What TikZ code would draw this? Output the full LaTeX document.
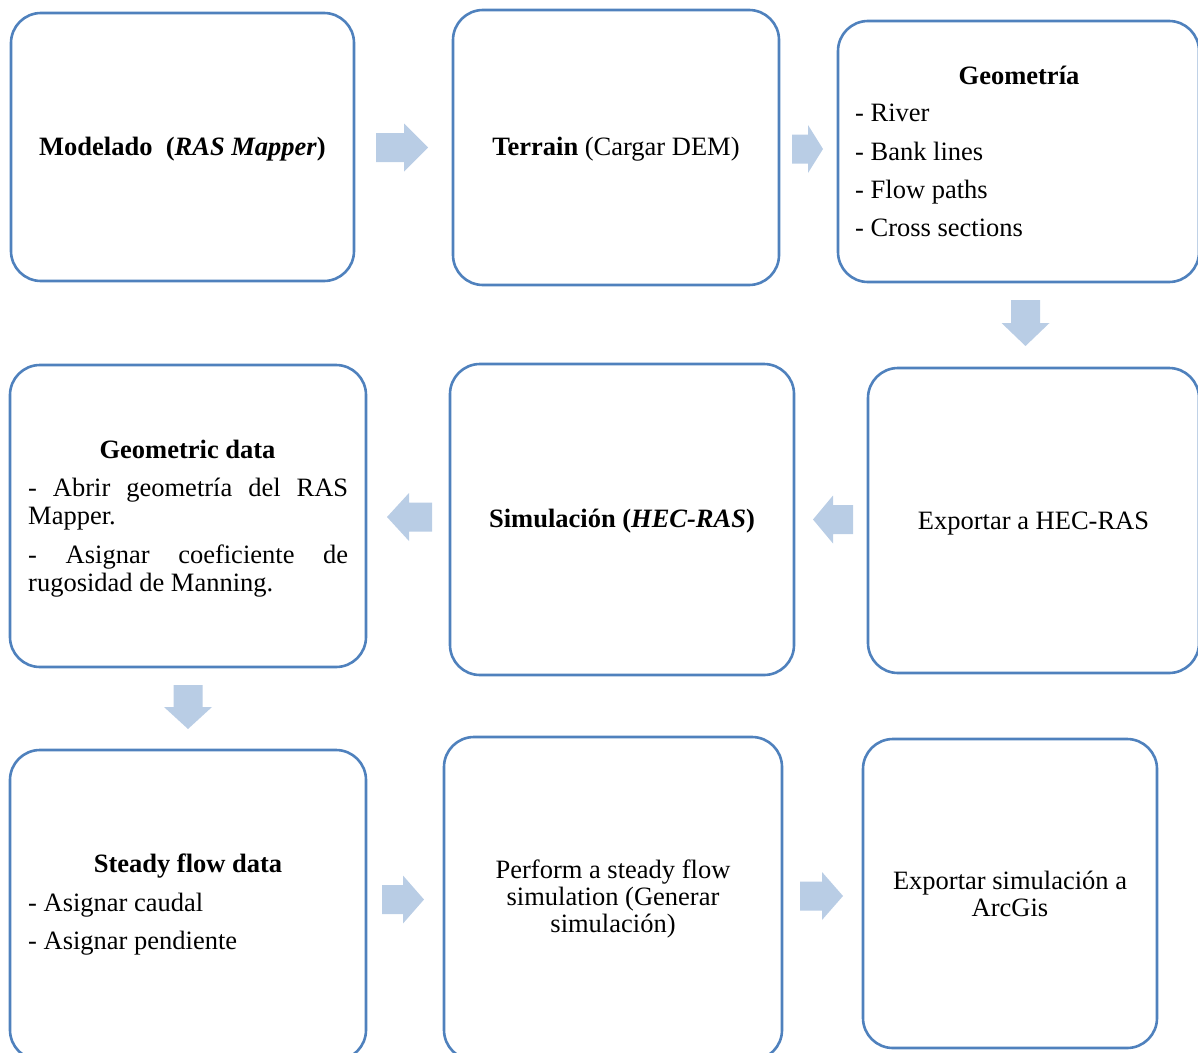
\documentclass[tikz,border=0pt]{standalone}
\usepackage{fontspec}
\setmainfont{Liberation Serif}
\definecolor{boxblue}{RGB}{79,129,189}
\definecolor{arrblue}{RGB}{185,205,229}
\newcommand\fsz{\fontsize{26.5}{28}\selectfont}
% block arrows: tail, tip, head length, centre
\newcommand\arrR[4]{\fill[afill] (#1,{#4-14.5}) -- ({#2-#3},{#4-14.5}) -- ({#2-#3},{#4-24}) -- (#2,#4) -- ({#2-#3},{#4+24}) -- ({#2-#3},{#4+14.5}) -- (#1,{#4+14.5}) -- cycle;}
\newcommand\arrL[4]{\fill[afill] (#1,{#4-14.5}) -- ({#2+#3},{#4-14.5}) -- ({#2+#3},{#4-24}) -- (#2,#4) -- ({#2+#3},{#4+24}) -- ({#2+#3},{#4+14.5}) -- (#1,{#4+14.5}) -- cycle;}
\newcommand\arrD[4]{\fill[afill] ({#4-14.5},#1) -- ({#4-14.5},{#2-#3}) -- ({#4-24},{#2-#3}) -- (#4,#2) -- ({#4+24},{#2-#3}) -- ({#4+14.5},{#2-#3}) -- ({#4+14.5},#1) -- cycle;}
\begin{document}
\begin{tikzpicture}[x=1pt,y=-1pt,
  box/.style={draw=boxblue, line width=2.6pt, rounded corners=30pt, fill=white, inner sep=0pt},
  txt/.style={inner sep=0pt, anchor=base, font=\fsz},
  ltxt/.style={txt, anchor=base west},
  afill/.style={fill=arrblue}]
\useasboundingbox (0,0) rectangle (1198,1052);

% boxes
\node[box, minimum width=343pt, minimum height=268pt] (A) at (182.5,147) {};
\node[box, minimum width=326pt, minimum height=275pt] (B) at (616,147.5) {};
\node[box, minimum width=361pt, minimum height=261pt] (C) at (1018.5,151.5) {};
\node[box, minimum width=331pt, minimum height=305pt] (F) at (1033.5,520.5) {};
\node[box, minimum width=344pt, minimum height=311pt] (E) at (622,519.5) {};
\node[box, minimum width=356pt, minimum height=302pt] (D) at (188,516) {};
\node[box, minimum width=356pt, minimum height=310pt] (G) at (188,905) {};
\node[box, minimum width=338pt, minimum height=323pt] (H) at (613,898.5) {};
\node[box, minimum width=294pt, minimum height=309pt] (I) at (1010,893.5) {};

% texts
\node[txt] (tA) at (182.5,155) {\textbf{Modelado\ \ (\textit{RAS Mapper})}};
\node[txt] (tB) at (616,155) {\textbf{Terrain} (Cargar DEM)};
\node[txt] (tC) at (1019,84) {\textbf{Geometría}};
\node[ltxt] (tC1) at (855,121) {- River};
\node[ltxt] (tC2) at (855,160) {- Bank lines};
\node[ltxt] (tC3) at (855,198) {- Flow paths};
\node[ltxt] (tC4) at (855,236.5) {- Cross sections};
\node[txt] (tF) at (1033.5,529) {Exportar a HEC-RAS};
\node[txt] (tE) at (622,527) {\textbf{Simulación (\textit{HEC-RAS})}};
\node[txt] (tD) at (187.5,458.5) {\textbf{Geometric data}};
\node[ltxt] (tD1) at (28,496) {\parbox[t]{320pt}{\fsz\hyphenpenalty=10000 - Abrir geometría del RAS\linebreak Mapper.}};
\node[ltxt] (tD2) at (28,563) {\parbox[t]{320pt}{\fsz\hyphenpenalty=10000 - Asignar coeficiente de\linebreak rugosidad de Manning.}};
\node[txt] (tG) at (188,872.5) {\textbf{Steady flow data}};
\node[ltxt] (tG1) at (28,911) {- Asignar caudal};
\node[ltxt] (tG2) at (28,949) {- Asignar pendiente};
\node[txt] (tH1) at (613,878) {Perform a steady flow};
\node[txt] (tH2) at (613,905) {simulation (Generar};
\node[txt] (tH3) at (613,932) {simulación)};
\node[txt] (tI1) at (1010,889) {Exportar simulación a};
\node[txt] (tI2) at (1010,916) {ArcGis};

% block arrows
\arrR{376}{428}{24}{147.5}
\arrR{792}{823}{15}{149}
\arrD{300}{346}{23}{1025.5}
\arrL{853}{813}{20}{519.5}
\arrL{432}{387}{22}{517}
\arrD{685}{729}{22}{188}
\arrR{382}{424}{21}{899.5}
\arrR{800}{843}{21}{896}
\end{tikzpicture}
\end{document}
